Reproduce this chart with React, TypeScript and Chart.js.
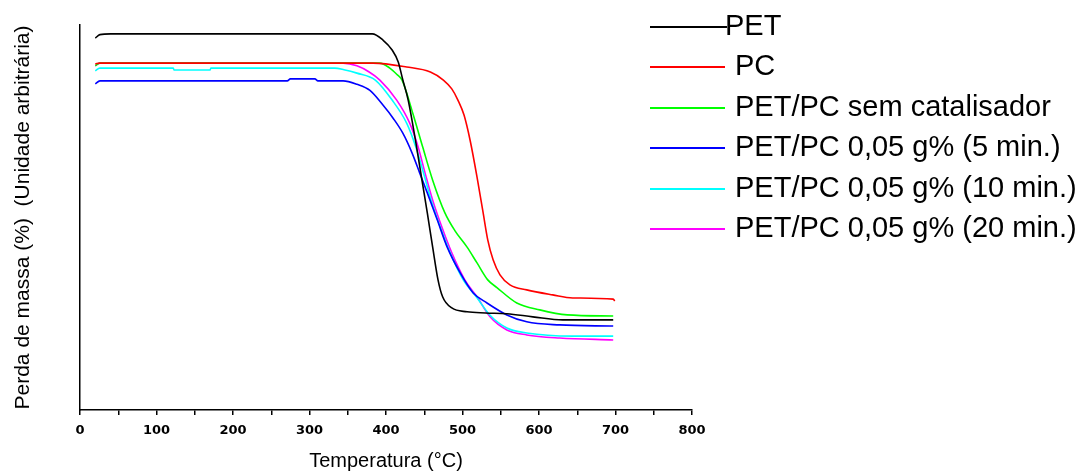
import React, { useEffect, useRef } from "react";
import { Chart, registerables } from "chart.js";

Chart.register(...registerables);

// Temperature (°C), mass (arbitrary units, 0-100 scale)
const PET: [number, number][] = [
  [20, 96.6], [26, 97.5], [40, 97.7], [382, 97.7], [396, 96.1], [408, 93.5], [416, 90.4],
  [422, 85.7], [429, 80.5], [440, 68.3], [447, 59.7], [454, 51.2], [461, 42.3], [468, 33.8],
  [474, 29.4], [486, 26.5], [506, 25.5], [530, 25.2], [558, 25.0], [592, 24.2], [631, 23.4],
  [697, 23.4],
];
const PC: [number, number][] = [
  [20, 89.9], [26, 90.1], [383, 90.1], [427, 89.1], [458, 87.8], [475, 85.7], [486, 83.4],
  [494, 80.5], [502, 76.6], [510, 70.0], [519, 60.5], [527, 51.2], [533, 44.2], [540, 39.0],
  [549, 35.1], [562, 32.5], [584, 31.2], [618, 29.9], [644, 29.1], [697, 28.8], [699, 28.3],
];
const SEM_CAT: [number, number][] = [
  [20, 89.4], [26, 90.1], [392, 90.1], [405, 88.8], [414, 87.2], [421, 85.7], [435, 77.1],
  [448, 68.3], [461, 59.7], [477, 51.2], [490, 46.6], [506, 42.3], [519, 38.2], [533, 33.8],
  [545, 31.8], [571, 27.8], [601, 26.0], [637, 24.7], [697, 24.4],
];
const MIN5: [number, number][] = [
  [20, 84.7], [26, 85.5], [271, 85.5], [275, 86.0], [307, 86.0], [311, 85.5], [344, 85.5],
  [362, 84.6], [379, 83.0], [396, 79.2], [410, 75.6], [422, 71.9], [434, 66.8], [444, 61.6],
  [454, 56.4], [467, 49.4], [480, 42.3], [497, 35.6], [514, 30.4], [532, 27.8], [558, 24.7],
  [584, 22.9], [627, 22.1], [697, 21.8],
];
const MIN10: [number, number][] = [
  [20, 88.1], [26, 88.8], [122, 88.8], [123, 88.3], [170, 88.3], [171, 88.8], [333, 88.8],
  [345, 88.4], [362, 87.5], [386, 85.7], [408, 80.5], [427, 74.5], [439, 68.3], [449, 61.6],
  [459, 54.5], [471, 47.5], [484, 40.8], [501, 33.8], [518, 29.4], [536, 24.6], [558, 21.3],
  [584, 20.0], [644, 19.2], [697, 19.2],
];
const MIN20: [number, number][] = [
  [20, 89.4], [26, 90.1], [344, 90.1], [362, 89.4], [378, 87.8], [392, 85.7], [414, 80.5],
  [431, 74.5], [442, 68.3], [451, 61.6], [461, 54.5], [473, 47.5], [486, 40.8], [503, 33.8],
  [519, 29.4], [536, 24.2], [558, 20.8], [584, 19.5], [627, 18.7], [697, 18.2],
];

const SERIES_LABELS = [
  "PET",
  "PC",
  "PET/PC sem catalisador",
  "PET/PC 0,05 g% (5 min.)",
  "PET/PC 0,05 g% (10 min.)",
  "PET/PC 0,05 g% (20 min.)",
];
const SERIES_DATA = [PET, PC, SEM_CAT, MIN5, MIN10, MIN20];
const SERIES_COLORS = ["#000000", "#ff0000", "#00ff00", "#0000ff", "#00ffff", "#ff00ff"];

const X_TITLE = "Temperatura (°C)";
const Y_TITLE = "Perda de massa (%)  (Unidade arbitrária)";

export default function App() {
  const ref = useRef<HTMLCanvasElement | null>(null);

  useEffect(() => {
    if (!ref.current) return;
    const chart = new Chart(ref.current, {
      type: "line",
      data: {
        datasets: SERIES_DATA.map((s, i) => ({
          label: SERIES_LABELS[i],
          data: s.map(([x, y]) => ({ x, y })),
          borderColor: SERIES_COLORS[i],
          backgroundColor: SERIES_COLORS[i],
          borderWidth: 1.6,
          pointRadius: 0,
          cubicInterpolationMode: "monotone" as const,
          fill: false,
        })),
      },
      options: {
        animation: false,
        responsive: false,
        devicePixelRatio: 1,
        layout: { padding: { top: 25, right: 395, left: 0, bottom: 0 } },
        plugins: { legend: { display: false }, tooltip: { enabled: false } },
        scales: {
          x: {
            type: "linear",
            min: 0,
            max: 800,
            afterFit: (scale: any) => {
              scale.height = 62;
            },
            border: { display: true, color: "#000", width: 1.5 },
            grid: {
              display: true,
              drawOnChartArea: false,
              drawTicks: true,
              tickLength: 5,
              color: "#000",
              lineWidth: 1.5,
            },
            ticks: {
              stepSize: 50,
              autoSkip: false,
              maxRotation: 0,
              padding: 8,
              color: "#000",
              font: { family: "DejaVu Sans", size: 13, weight: "bold" },
              callback: (v: any) => (Number(v) % 100 === 0 ? String(v) : ""),
            },
            title: {
              display: true,
              text: X_TITLE,
              color: "#000",
              font: { family: "Liberation Sans", size: 20, lineHeight: 1.1 },
              padding: { top: 0, bottom: 0 },
            },
          },
          y: {
            type: "linear",
            min: 0,
            max: 100,
            afterFit: (scale: any) => {
              scale.width = 80;
            },
            border: { display: true, color: "#000", width: 1.5 },
            grid: { display: false },
            ticks: { display: false },
            title: {
              display: true,
              text: Y_TITLE,
              color: "#000",
              font: { family: "Liberation Sans", size: 21, lineHeight: 1.1 },
              padding: { top: 12, bottom: 0 },
            },
          },
        },
      },
    });
    return () => chart.destroy();
  }, []);

  const rowY = (i: number) => Math.round(27 + i * 40.4);

  return (
    <div style={{ position: "absolute", left: 0, top: 0, width: 1087, height: 472, background: "#fff" }}>
      <canvas ref={ref} width={1087} height={472} style={{ position: "absolute", left: 0, top: 0 }} />
      {SERIES_LABELS.map((label, i) => {
        const y = rowY(i);
        const isFirst = i === 0;
        return (
          <React.Fragment key={label}>
            <div
              style={{
                position: "absolute",
                left: 650,
                top: y - 1,
                width: isFirst ? 77 : 75,
                height: 2,
                background: SERIES_COLORS[i],
              }}
            />
            <div
              style={{
                position: "absolute",
                left: isFirst ? 725 : 735,
                top: y - 16,
                fontFamily: "'Liberation Sans', Arial, sans-serif",
                fontSize: 29,
                lineHeight: "29px",
                color: "#000",
                whiteSpace: "nowrap",
              }}
            >
              {label}
            </div>
          </React.Fragment>
        );
      })}
    </div>
  );
}
